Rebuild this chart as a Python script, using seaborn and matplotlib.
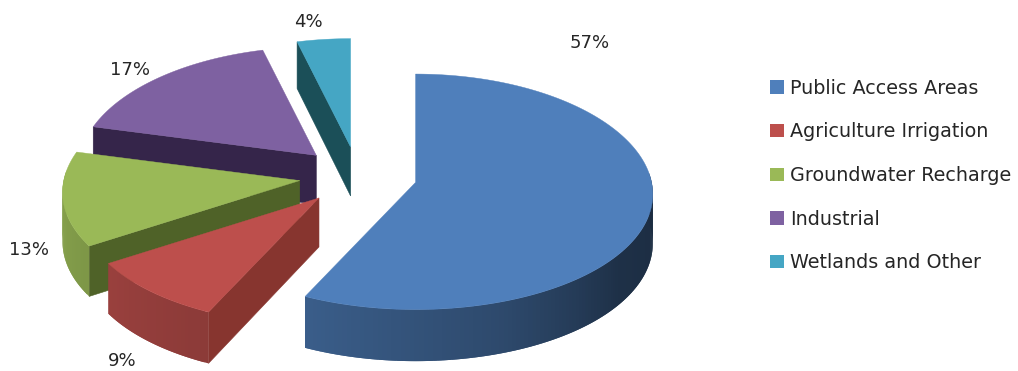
import numpy as np
import matplotlib
matplotlib.use("Agg")
import matplotlib.pyplot as plt
from matplotlib.patches import Patch
from matplotlib.colors import to_rgb
import seaborn as sns

# Share of water use by category (percent)
categories = ["Public Access Areas", "Agriculture Irrigation", "Groundwater Recharge",
              "Industrial", "Wetlands and Other"]
shares = [57, 9, 13, 17, 4]
top_colors = ["#4f7fbb", "#bd4f4c", "#9ab957", "#7e61a1", "#45a6c4"]
face_colors = ["#1d3350", "#87352f", "#4f6228", "#35254a", "#1b4f58"]
label_positions = [(590, 43), (122, 361), (29, 250), (130, 70), (308, 22)]

sns.set_theme(style="white")
plt.rcParams["font.family"] = ["DejaVu Sans"]
sns.set_palette(top_colors)

# Tilted-pie geometry, in figure pixels
CENTER = (358.0, 176.0)
RX, RY = 236.0, 117.0
PERSPECTIVE_X = 0.10
PERSPECTIVE_Y = 0.08
THICKNESS = 49.0
THICKNESS_PERSPECTIVE = 0.05
EXPLODE = 0.25


def project(theta, apex, down=False):
    """Place a rim point given its clockwise angle from twelve o'clock."""
    u, v = np.sin(np.radians(theta)), np.cos(np.radians(theta))
    x = apex[0] + RX * u / (1.0 + PERSPECTIVE_X * v)
    y = apex[1] - RY * v / (1.0 + PERSPECTIVE_Y * v)
    if down:
        y += THICKNESS / (1.0 + THICKNESS_PERSPECTIVE * v)
    return x, y


def wall_shade(theta):
    """Brightness of the outer wall, lighter towards the left."""
    return np.interp(theta, [90, 125, 160, 205, 240, 275],
                     [0.35, 0.38, 0.58, 0.74, 0.82, 0.90])


fig = plt.figure(figsize=(10.18, 3.71), dpi=100)
ax = fig.add_axes([0, 0, 1, 1])
ax.set_xlim(0, 1018)
ax.set_ylim(371, 0)
ax.axis("off")

edges = np.concatenate([[0], np.cumsum(shares)]) * 3.6
order = [4, 3, 2, 1, 0]  # far wedges first so nearer ones overlap them

for i in order:
    start, stop = edges[i], edges[i + 1]
    mid = 0.5 * (start + stop)
    apex = (CENTER[0] + EXPLODE * RX * np.sin(np.radians(mid)),
            CENTER[1] - EXPLODE * RY * np.cos(np.radians(mid)))
    below = (apex[0], apex[1] + THICKNESS)

    # Radial cut face
    p0 = project(start, apex)
    p1 = project(start, apex, down=True)
    ax.fill([apex[0], p0[0], p1[0], below[0]], [apex[1], p0[1], p1[1], below[1]],
            color=face_colors[i], lw=0.4, zorder=1)

    # Outer wall: overlapping strips give a smooth shade without seams
    lo, hi = max(start, 85.0), min(stop, 275.0)
    if hi > lo:
        steps = np.linspace(lo, hi, max(int(hi - lo), 2) + 1)
        base = np.array(to_rgb(top_colors[i]))
        for k in range(len(steps) - 1, 0, -1):
            a, b = steps[k - 1], min(steps[k] + (steps[1] - steps[0]), hi)
            arc = np.linspace(a, b, 6)
            upper = [project(t, apex) for t in arc]
            lower = [project(t, apex, True) for t in arc[::-1]]
            outline = upper + lower
            ax.fill([p[0] for p in outline], [p[1] for p in outline],
                    color=base * wall_shade(0.5 * (steps[k - 1] + steps[k])),
                    lw=0, zorder=1)

    # Top surface
    thetas = np.linspace(start, stop, 200)
    rim = [project(t, apex) for t in thetas]
    xs = [apex[0]] + [p[0] for p in rim]
    ys = [apex[1]] + [p[1] for p in rim]
    ax.fill(xs, ys, color=top_colors[i], lw=0.3, zorder=1)

for share, (x, y) in zip(shares, label_positions):
    ax.text(x, y, f"{share}%", ha="center", va="center", fontsize=13, color="#262626")

handles = [Patch(facecolor=c, edgecolor="none", label=n) for c, n in zip(top_colors, categories)]
leg = ax.legend(handles=handles, loc="upper left", bbox_to_anchor=(770 / 1018, 1 - 78.5 / 371),
                frameon=False, fontsize=13.8, handlelength=0.74, handleheight=0.7,
                handletextpad=0.31, labelspacing=1.29, borderpad=0, borderaxespad=0,
                labelcolor="#262626")

fig.savefig("out.png", dpi=100, facecolor="white")
